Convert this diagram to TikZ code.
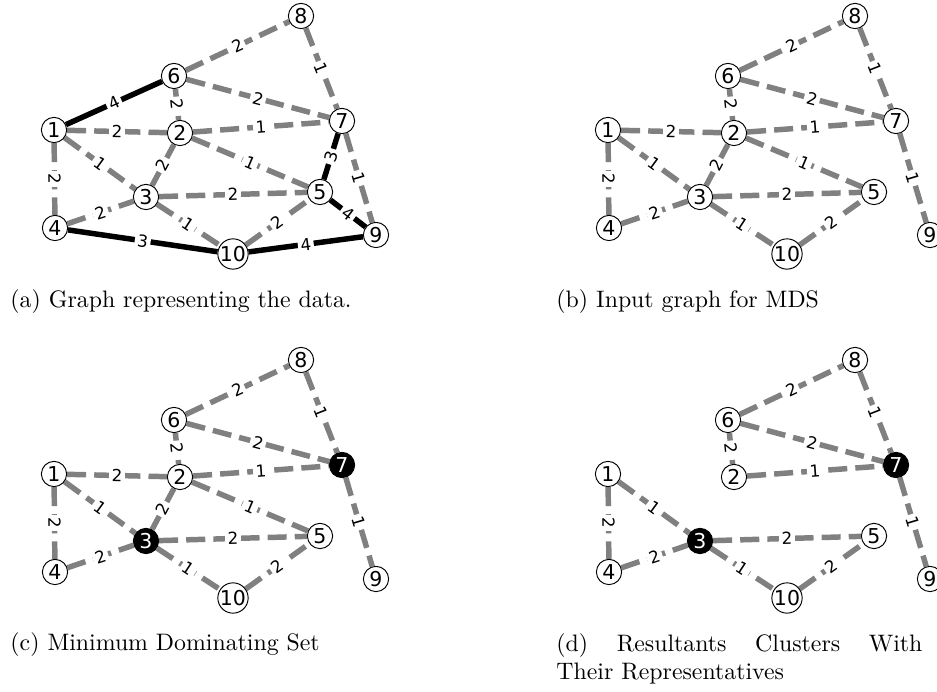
\documentclass[tikz,border=0pt]{standalone}
\usepackage{fontspec}
\newfontfamily\graphfont{DejaVu Sans}
\usetikzlibrary{backgrounds}

\definecolor{edgegray}{RGB}{128,128,128}

% vertex positions inside one panel (pixels)
\newcommand{\vertexpos}{1/54/130, 2/180/133, 3/146/197, 4/55/228, 5/320/192,
  6/174/76, 7/342/121, 8/301/16, 9/376/235, 10/233/254}

\begin{document}
\begin{tikzpicture}[
    x=0.42pt, y=-0.42pt,
    vtx/.style={circle, draw, thin, fill=white, minimum size=10.6pt, inner sep=0pt,
      font=\graphfont\fontsize{8.6}{9}\selectfont},
    rep/.style={vtx, fill=black, text=white},
    grayedge/.style={draw=edgegray, line width=2.3pt, dash pattern=on 8pt off 3.4pt},
    blackedge/.style={draw=black, line width=2.3pt},
    weight/.style={midway, sloped, fill=white, inner sep=1.1pt, rounded corners=1pt,
      font=\graphfont\fontsize{7}{7}\selectfont},
    subcap/.style={anchor=base west, inner sep=0pt},
]
\useasboundingbox (0,0) rectangle (937,692);
\clip (0,0) rectangle (937,692);

% ---------- (a) graph of the data ----------
\begin{scope}
\foreach \n/\x/\y in \vertexpos
  \node[vtx] (a\n) at (\x,\y) {\n};
\begin{scope}[on background layer]
\foreach \u/\v/\w in {1/2/2, 1/3/1, 1/4/2, 6/8/2, 6/7/2, 6/2/2, 2/7/1, 2/5/1,
    3/2/2, 3/5/2, 4/3/2, 3/10/1, 8/7/1, 7/9/1, 10/5/2}
  \draw[grayedge] (a\u) -- node[weight] {\w} (a\v);
\foreach \u/\v/\w in {1/6/4, 7/5/3, 5/9/4, 4/10/3, 10/9/4}
  \draw[blackedge] (a\u) -- node[weight] {\w} (a\v);
\end{scope}
\end{scope}
\node[subcap] (capa) at (10,308) {(a) Graph representing the data.};

% ---------- (b) input graph ----------
\begin{scope}[shift={(554,0)}]
\foreach \n/\x/\y in \vertexpos
  \node[vtx] (b\n) at (\x,\y) {\n};
\begin{scope}[on background layer]
\foreach \u/\v/\w in {1/2/2, 1/3/1, 1/4/2, 6/8/2, 6/7/2, 6/2/2, 2/7/1, 2/5/1,
    3/2/2, 3/5/2, 4/3/2, 3/10/1, 8/7/1, 7/9/1, 10/5/2}
  \draw[grayedge] (b\u) -- node[weight] {\w} (b\v);
\end{scope}
\end{scope}
\node[subcap] (capb) at (556,308) {(b) Input graph for MDS};

% ---------- (c) dominating set ----------
\begin{scope}[shift={(0,344)}, pick3/.style={rep}, pick7/.style={rep}]
\foreach \n/\x/\y in \vertexpos
  \node[vtx, pick\n/.try] (c\n) at (\x,\y) {\n};
\begin{scope}[on background layer]
\foreach \u/\v/\w in {1/2/2, 1/3/1, 1/4/2, 6/8/2, 6/7/2, 6/2/2, 2/7/1, 2/5/1,
    3/2/2, 3/5/2, 4/3/2, 3/10/1, 8/7/1, 7/9/1, 10/5/2}
  \draw[grayedge] (c\u) -- node[weight] {\w} (c\v);
\end{scope}
\end{scope}
\node[subcap] (capc) at (10,651) {(c) Minimum Dominating Set};

% ---------- (d) clusters ----------
\begin{scope}[shift={(554,344)}, pick3/.style={rep}, pick7/.style={rep}]
\foreach \n/\x/\y in \vertexpos
  \node[vtx, pick\n/.try] (d\n) at (\x,\y) {\n};
\begin{scope}[on background layer]
\foreach \u/\v/\w in {1/3/1, 1/4/2, 4/3/2, 3/5/2, 3/10/1, 10/5/2,
    6/8/2, 6/7/2, 6/2/2, 2/7/1, 8/7/1, 7/9/1}
  \draw[grayedge] (d\u) -- node[weight] {\w} (d\v);
\end{scope}
\end{scope}
\node[anchor=north west, inner sep=0pt, text width=366*0.42pt, align=justify]
  (capd) at (556,633) {(d) Resultants Clusters With\linebreak Their Representatives};

\end{tikzpicture}
\end{document}
